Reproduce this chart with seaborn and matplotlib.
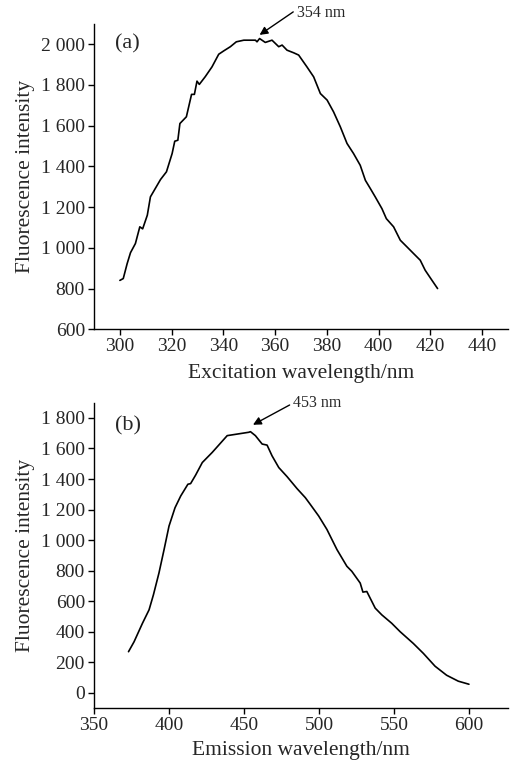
import numpy as np
import pandas as pd
import matplotlib
matplotlib.use("Agg")
import matplotlib.pyplot as plt
from matplotlib.ticker import FuncFormatter
import seaborn as sns

# Excitation spectrum (panel a)
ex_wavelength = [300, 301.3, 302.8, 304.1, 306, 307.7, 308.8, 310.6, 311.8, 315.7,
                 318, 320.2, 321.2, 322.4, 323.2, 325.7, 327.7, 328.8, 329.8, 330.7,
                 333, 335.6, 338.2, 340.2, 342.7, 345, 347.9, 352.4, 353, 354,
                 356.2, 358.8, 361.4, 362.7, 364.6, 367.2, 369.1, 372.3, 374.9, 377.5,
                 380.1, 382.6, 385.2, 387.8, 390.3, 392.9, 394.9, 396.8, 398.7, 401.3,
                 403, 405.8, 408.4, 411, 413.5, 416.1, 418, 420.6, 422.8]
ex_intensity = [840, 849, 922, 976, 1021, 1103, 1093, 1160, 1250, 1335,
                1373, 1463, 1523, 1528, 1610, 1643, 1753, 1753, 1818, 1802,
                1840, 1888, 1950, 1967, 1987, 2011, 2019, 2019, 2011, 2027,
                2008, 2019, 1987, 1995, 1970, 1957, 1946, 1888, 1839, 1757,
                1725, 1667, 1594, 1512, 1463, 1405, 1331, 1291, 1250, 1192,
                1143, 1103, 1037, 1004, 972, 939, 890, 841, 800]

# Emission spectrum (panel b)
em_wavelength = [373, 376.7, 382.3, 386.7, 389.6, 393.3, 396.7, 400, 404, 407.8,
                 412.6, 414.4, 417.7, 422.2, 428.8, 438.8, 453.2, 454.3, 457.6, 462.1,
                 465.4, 468.7, 473.2, 478.7, 485.4, 490.9, 494.2, 499.8, 505.3, 512,
                 518.6, 521.9, 527.5, 529.3, 531.9, 537.5, 541.9, 548.5, 554.1, 562.9,
                 569.6, 577.4, 585.1, 592.9, 600]
em_intensity = [270, 335, 456, 544, 642, 785, 938, 1092, 1212, 1289,
                1366, 1370, 1425, 1508, 1574, 1684, 1706, 1710, 1684, 1629,
                1622, 1552, 1475, 1416, 1337, 1278, 1234, 1158, 1070, 938,
                829, 796, 719, 660, 664, 555, 511, 456, 401, 324,
                259, 175, 116, 77, 57]

df_ex = pd.DataFrame({"wavelength": ex_wavelength, "intensity": ex_intensity})
df_em = pd.DataFrame({"wavelength": em_wavelength, "intensity": em_intensity})

sns.set_style("ticks")
plt.rcParams["font.family"] = ["Liberation Serif", "DejaVu Serif"]
plt.rcParams["font.size"] = 14


def space_thousands(v, pos):
    s = f"{int(round(v)):,}"
    return s.replace(",", " ")


fig = plt.figure(figsize=(5.11, 7.64), dpi=100)
ax_a = fig.add_axes([0.184, 0.569, 0.810, 0.400])
ax_b = fig.add_axes([0.184, 0.073, 0.810, 0.400])

sns.lineplot(data=df_ex, x="wavelength", y="intensity", ax=ax_a,
             color="black", linewidth=1.2, sort=False)
sns.lineplot(data=df_em, x="wavelength", y="intensity", ax=ax_b,
             color="black", linewidth=1.2, sort=False)

ax_a.set_xlim(290, 450)
ax_a.set_ylim(600, 2100)
ax_a.set_xticks(np.arange(300, 441, 20))
ax_a.set_yticks(np.arange(600, 2001, 200))
ax_a.set_xlabel("Excitation wavelength/nm", fontsize=15.5, labelpad=6)
ax_a.set_ylabel("Fluorescence intensity", fontsize=15.5, labelpad=4)
ax_a.text(298, 2000, "(a)", fontsize=16, va="center")
ax_a.annotate("354 nm", xy=(354, 2045), xytext=(368.5, 2150),
              fontsize=11.5, va="center", annotation_clip=False,
              arrowprops=dict(arrowstyle="-|>", color="black", lw=1,
                              mutation_scale=12, shrinkA=0, shrinkB=0,
                              relpos=(-0.08, 0.6)))

ax_b.set_xlim(350, 626)
ax_b.set_ylim(-100, 1900)
ax_b.set_xticks(np.arange(350, 601, 50))
ax_b.set_yticks(np.arange(0, 1801, 200))
ax_b.set_xlabel("Emission wavelength/nm", fontsize=15.5, labelpad=5)
ax_b.set_ylabel("Fluorescence intensity", fontsize=15.5, labelpad=4)
ax_b.text(364, 1745, "(b)", fontsize=16, va="center")
ax_b.annotate("453 nm", xy=(456, 1755), xytext=(483, 1895),
              fontsize=11.5, va="center", annotation_clip=False,
              arrowprops=dict(arrowstyle="-|>", color="black", lw=1,
                              mutation_scale=12, shrinkA=0, shrinkB=0,
                              relpos=(-0.08, 0.4)))

for ax in (ax_a, ax_b):
    sns.despine(ax=ax)
    ax.yaxis.set_major_formatter(FuncFormatter(space_thousands))
    ax.tick_params(direction="out", length=4.5, width=1, labelsize=14,
                   color="black", pad=2)
    for sp in ("left", "bottom"):
        ax.spines[sp].set_linewidth(1)
        ax.spines[sp].set_color("black")

fig.savefig("out.png", dpi=100)
